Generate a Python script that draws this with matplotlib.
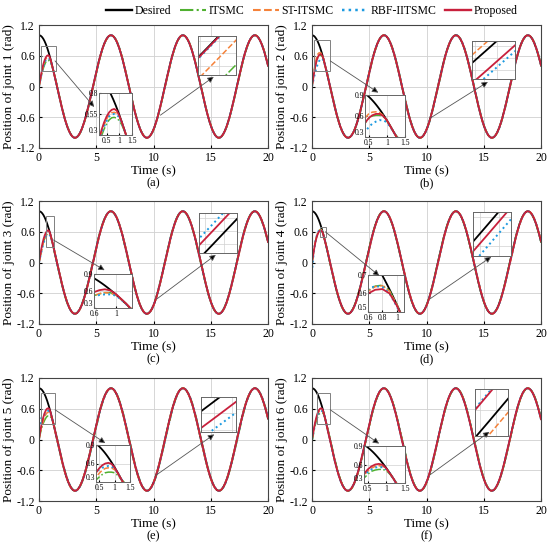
import numpy as np
import matplotlib.pyplot as plt
from matplotlib.lines import Line2D
from matplotlib.patches import Rectangle

plt.rcParams['font.family'] = 'serif'
plt.rcParams['font.serif'] = ['Liberation Serif', 'DejaVu Serif']

# desired joint trajectory q_d = amp*cos(omega*t)
amp = 1.0
omega = 1.0
t_end = 20.0

methods = ['Desired', 'ITSMC', 'ST-ITSMC', 'RBF-IITSMC', 'Proposed']
colors = ['black', '#4FB030', '#F5823A', '#1C9AE0', '#C8203C']
styles = ['-', '-.', '--', ':', '-']
widths = [1.3, 1.1, 1.1, 1.4, 1.3]

# start-up transient of each controller (rad), read every 0.1 s
t_trans = [0.0, 0.1, 0.2, 0.3, 0.4, 0.5, 0.6, 0.7, 0.8, 0.9, 1.0, 1.1, 1.2]
# order: ITSMC, ST-ITSMC, RBF-IITSMC, Proposed
trans_j1 = [[0, 0.10, 0.20, 0.29, 0.37, 0.43, 0.48, 0.505, 0.51, 0.50, 0.47, 0.42, 0.35],
            [0, 0.12, 0.23, 0.33, 0.42, 0.49, 0.54, 0.565, 0.57, 0.56, 0.52, 0.45, 0.36],
            [0, 0.11, 0.22, 0.32, 0.40, 0.47, 0.52, 0.545, 0.55, 0.54, 0.51, 0.44, 0.36],
            [0, 0.13, 0.25, 0.36, 0.45, 0.52, 0.57, 0.60, 0.61, 0.59, 0.53, 0.45, 0.36]]
trans_j2 = [[0, 0.15, 0.29, 0.41, 0.50, 0.56, 0.60, 0.61, 0.61, 0.59, 0.53, 0.45, 0.36],
            [0, 0.18, 0.34, 0.47, 0.57, 0.63, 0.655, 0.66, 0.65, 0.61, 0.54, 0.45, 0.36],
            [0, 0.10, 0.20, 0.29, 0.37, 0.44, 0.49, 0.52, 0.54, 0.54, 0.51, 0.44, 0.36],
            [0, 0.15, 0.29, 0.41, 0.50, 0.57, 0.61, 0.63, 0.63, 0.60, 0.54, 0.45, 0.36]]
trans_j3 = [[0, 0.11, 0.22, 0.32, 0.41, 0.47, 0.52, 0.55, 0.57, 0.57, 0.53, 0.46, 0.37],
            [0, 0.11, 0.22, 0.32, 0.40, 0.47, 0.52, 0.555, 0.57, 0.565, 0.53, 0.455, 0.365],
            [0, 0.10, 0.20, 0.30, 0.38, 0.45, 0.50, 0.53, 0.54, 0.54, 0.52, 0.45, 0.36],
            [0, 0.13, 0.26, 0.37, 0.46, 0.53, 0.58, 0.615, 0.63, 0.61, 0.55, 0.46, 0.37]]
trans_j4 = [[0, 0.15, 0.29, 0.41, 0.50, 0.57, 0.615, 0.64, 0.645, 0.615, 0.54, 0.45, 0.36],
            [0, 0.15, 0.29, 0.41, 0.50, 0.57, 0.612, 0.637, 0.642, 0.612, 0.54, 0.45, 0.36],
            [-0.2, 0.08, 0.27, 0.41, 0.51, 0.58, 0.625, 0.64, 0.635, 0.60, 0.53, 0.45, 0.36],
            [0, 0.14, 0.28, 0.40, 0.49, 0.555, 0.60, 0.62, 0.624, 0.60, 0.535, 0.45, 0.36]]
trans_j5 = [[0, 0.10, 0.19, 0.27, 0.33, 0.38, 0.42, 0.45, 0.46, 0.46, 0.45, 0.41, 0.35],
            [0, 0.12, 0.22, 0.31, 0.38, 0.44, 0.49, 0.52, 0.53, 0.53, 0.50, 0.44, 0.36],
            [0, 0.30, 0.42, 0.45, 0.47, 0.50, 0.53, 0.55, 0.56, 0.555, 0.52, 0.45, 0.36],
            [0, 0.15, 0.27, 0.37, 0.45, 0.52, 0.57, 0.60, 0.61, 0.595, 0.535, 0.45, 0.36]]
trans_j6 = [[-0.05, 0.08, 0.20, 0.30, 0.38, 0.44, 0.49, 0.51, 0.52, 0.52, 0.50, 0.44, 0.36],
            [0, 0.12, 0.24, 0.34, 0.43, 0.49, 0.54, 0.57, 0.58, 0.57, 0.525, 0.45, 0.36],
            [0, 0.11, 0.22, 0.33, 0.41, 0.48, 0.52, 0.55, 0.56, 0.555, 0.52, 0.45, 0.36],
            [0, 0.13, 0.25, 0.36, 0.45, 0.52, 0.57, 0.60, 0.61, 0.595, 0.535, 0.45, 0.36]]
transients = [trans_j1, trans_j2, trans_j3, trans_j4, trans_j5, trans_j6]

# steady-state time lag behind the desired trajectory (s), same order
lag_j1 = [0.0238, 0.0112, 0.0008, 0.0004]
lag_j2 = [0.0304, -0.0042, 0.0138, 0.0107]
lag_j3 = [-0.0290, 0.0210, -0.0102, -0.0068]
lag_j4 = [-0.0195, 0.0305, 0.0098, 0.0045]
lag_j5 = [0.0384, -0.0156, 0.0210, 0.0128]
lag_j6 = [0.0210, 0.0070, -0.0150, -0.0142]
lags = [lag_j1, lag_j2, lag_j3, lag_j4, lag_j5, lag_j6]

captions = ['(a)', '(b)', '(c)', '(d)', '(e)', '(f)']

# left zoom windows (x range, y range, ticks)
zoom_x = [(0.2, 1.5), (0.4, 1.5), (0.6, 1.3), (0.6, 1.1), (0.4, 1.5), (0.4, 1.5)]
zoom_y = [(0.3, 0.8), (0.3, 0.9), (0.3, 0.9), (0.5, 0.7), (0.3, 0.9), (0.3, 0.9)]
zoom_xt = [[0.5, 1, 1.5], [0.5, 1, 1.5], [0.6, 1], [0.6, 0.8, 1], [0.5, 1, 1.5], [0.5, 1, 1.5]]
zoom_yt = [[0.3, 0.55, 0.8], [0.3, 0.6, 0.9], [0.3, 0.6, 0.9], [0.5, 0.6, 0.7],
           [0.3, 0.6, 0.9], [0.3, 0.6, 0.9]]
rect_x = [(0.2, 1.5), (0.15, 1.6), (0.6, 1.27), (0.66, 1.22), (0.15, 1.4), (0.4, 1.6)]
rect_y = [(0.3, 0.8), (0.3, 0.9), (0.3, 0.9), (0.5, 0.7), (0.3, 0.9), (0.3, 0.9)]

# right zoom around t0 on the rising slope
t0 = 10.3
win = 0.02
win_slope = [1.0, 1.0, 1.0, 1.0, 0.75, 0.83]
black_pos = [0.05, 0.08, 0.65, 0.175, -0.12, 0.65]

# arrows (data coordinates of the parent axes)
arrow_l = [((1.4, 0.5), (4.82, -0.40)), ((1.59, 0.5), (5.79, -0.12)),
           ((1.26, 0.44), (5.73, -0.15)), ((1.16, 0.6), (5.88, -0.26)),
           ((1.4, 0.58), (5.79, -0.07)), ((1.59, 0.58), (5.86, -0.08))]
arrow_r = [((10.6, -0.56), (15.26, 0.19)), ((10.3, -0.62), (15.36, 0.09)),
           ((10.3, -0.71), (15.44, 0.15)), ((10.3, -0.71), (15.65, 0.11)),
           ((10.2, -0.70), (15.3, 0.10)), ((10.3, -0.69), (15.5, 0.15))]

# layout in pixels (figure 550 x 549)
W_PX, H_PX = 550, 549
col_left = [39, 312]
row_top = [25, 201, 378]
ax_w, ax_h = 229, 123
box_l = [(99, 93, 132, 135), (365, 95, 405, 137), (94, 274, 132, 308),
         (368, 275, 404, 312), (96, 445, 130, 482), (364, 446, 405, 483)]
box_r = [(198, 36, 236, 75), (472, 41, 515, 79), (199, 213, 237, 253),
         (473, 212, 511, 256), (201, 397, 236, 432), (475, 389, 508, 436)]


def traj(t, j, k):
    # k = 0 desired, 1..4 controllers
    if k == 0:
        return amp * np.cos(omega * t)
    return amp * np.cos(omega * (t - lags[j][k - 1]))


def rel_box(px, left, top):
    x0, y0, x1, y1 = px
    return [(x0 - left) / ax_w, (top + ax_h - y1) / ax_h, (x1 - x0) / ax_w, (y1 - y0) / ax_h]


fig = plt.figure(figsize=(5.5, 5.49), dpi=100)
t_ss = np.linspace(1.3, t_end, 2000)
t_des = np.linspace(0, t_end, 2000)
t_tr = np.array(t_trans)

for j in range(6):
    r, c = divmod(j, 2)
    left, top = col_left[c], row_top[r]
    ax = fig.add_axes([left / W_PX, 1 - (top + ax_h) / H_PX, ax_w / W_PX, ax_h / H_PX])

    curves = [(t_des, traj(t_des, j, 0))]
    for k in range(1, 5):
        tt = np.concatenate([t_tr, t_ss])
        yy = np.concatenate([transients[j][k - 1], traj(t_ss, j, k)])
        curves.append((tt, yy))
    for k in range(5):
        ax.plot(curves[k][0], curves[k][1], color=colors[k], ls=styles[k], lw=widths[k])

    ax.set_xlim(0, 20)
    ax.set_ylim(-1.2, 1.2)
    ax.set_xticks([0, 5, 10, 15, 20])
    ax.set_yticks([-1.2, -0.6, 0, 0.6, 1.2])
    ax.set_yticklabels(['-1.2', '-0.6', '0', '0.6', '1.2'])
    ax.tick_params(direction='in', length=2, labelsize=8.5, pad=3)
    ax.grid(True, color='#d0d0d0', lw=0.6)
    for s in ax.spines.values():
        s.set_color('#444444')
        s.set_linewidth(0.8)
    ax.set_xlabel('Time (s)', fontsize=9.5, labelpad=1)
    ax.set_ylabel('Position of joint %d (rad)' % (j + 1), fontsize=9.5, labelpad=1)
    ax.text(0.5, -0.29, captions[j], transform=ax.transAxes, ha='center', va='center', fontsize=9)

    # source rectangle for the left zoom
    ax.add_patch(Rectangle((rect_x[j][0], rect_y[j][0]), rect_x[j][1] - rect_x[j][0],
                           rect_y[j][1] - rect_y[j][0], fill=False, ec='#808080', lw=0.7, zorder=5))
    for (p0, p1) in (arrow_l[j], arrow_r[j]):
        ax.annotate('', xy=p1, xytext=p0,
                    arrowprops=dict(arrowstyle='-|>', ec='#555555', fc='black', lw=0.6,
                                    mutation_scale=9, shrinkA=0, shrinkB=0), zorder=6)

    # left inset: start-up transient
    ia = ax.inset_axes(rel_box(box_l[j], left, top))
    for k in range(5):
        ia.plot(curves[k][0], curves[k][1], color=colors[k], ls=styles[k], lw=widths[k])
    ia.set_xlim(zoom_x[j])
    ia.set_ylim(zoom_y[j])
    ia.set_xticks(zoom_xt[j])
    ia.set_yticks(zoom_yt[j])
    ia.set_xticklabels(['%g' % v for v in zoom_xt[j]])
    ylabs = ia.set_yticklabels(['%g' % v for v in zoom_yt[j]])
    ylabs[0].set_va('bottom')
    ia.tick_params(direction='in', length=1.5, labelsize=5.5, pad=0.8)
    ia.tick_params(axis='x', pad=1.5)
    ia.grid(True, color='#d0d0d0', lw=0.5)
    for s in ia.spines.values():
        s.set_color('#666666')
        s.set_linewidth(0.7)

    # right inset: steady-state tracking
    ib = ax.inset_axes(rel_box(box_r[j], left, top))
    x0 = t0 - black_pos[j] * win
    xs = np.linspace(x0 - win, x0 + 2 * win, 200)
    for k in range(5):
        ib.plot(xs, traj(xs, j, k), color=colors[k], ls=styles[k], lw=widths[k])
    y_half = -np.sin(t0) * win / win_slope[j] / 2
    ib.set_xlim(x0, x0 + win)
    ib.set_ylim(np.cos(t0) - y_half, np.cos(t0) + y_half)
    ib.locator_params(nbins=3)
    ib.tick_params(length=0, labelbottom=False, labelleft=False)
    ib.grid(True, color='#d0d0d0', lw=0.5)
    for s in ib.spines.values():
        s.set_color('#666666')
        s.set_linewidth(0.7)

handles = [Line2D([], [], color=colors[k], ls=styles[k], lw=widths[k] + 0.4) for k in range(5)]
fig.legend(handles, methods, loc='upper center', bbox_to_anchor=(0.567, 1.01), ncol=5,
           frameon=False, fontsize=8.5, handlelength=2.2, columnspacing=0.7, handletextpad=0.25)

fig.savefig('out.png', dpi=100)
